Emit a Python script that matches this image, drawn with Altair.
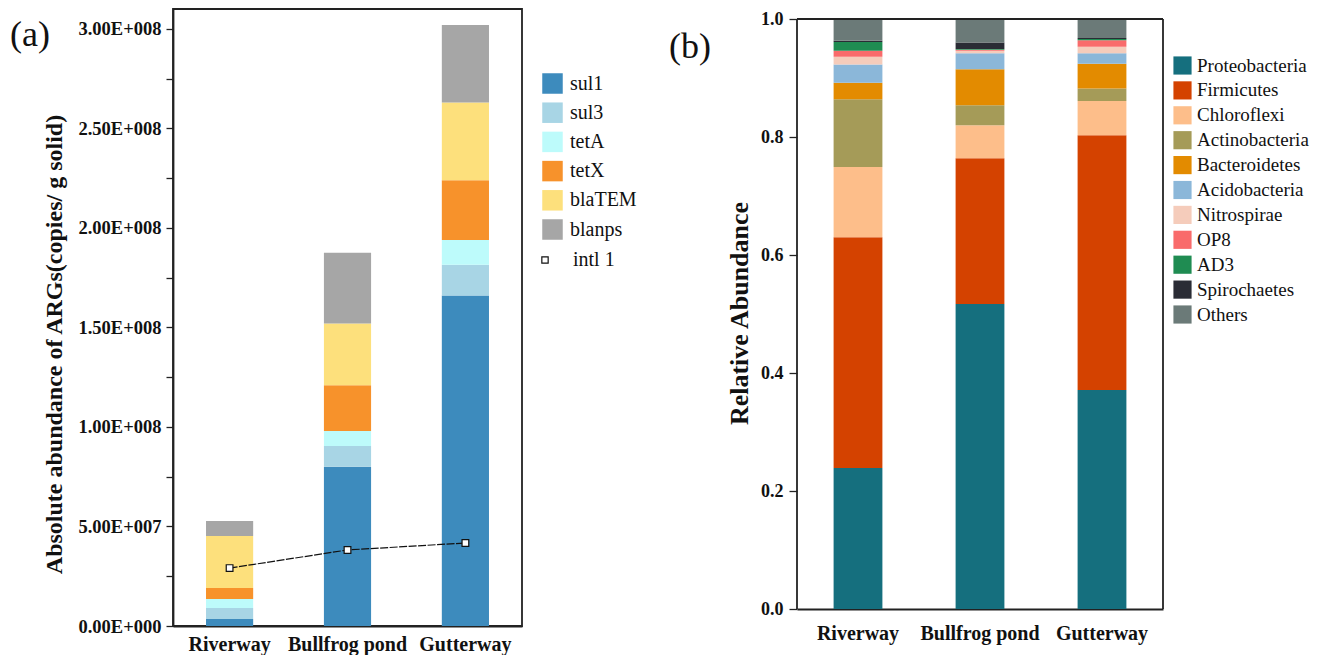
import altair as alt
import pandas as pd

FONT = "Liberation Serif"
INK = "#111111"

sites = ["Riverway", "Bullfrog pond", "Gutterway"]

# ---- panel (a): absolute abundance of ARGs (copies / g solid)
genes = ["sul1", "sul3", "tetA", "tetX", "blaTEM", "blanps"]
gene_colors = ["#3d8bbd", "#a8d5e5", "#bdfbfb", "#f7922b", "#fde07c", "#a6a6a6"]
sul1 = [3.5e6, 80.0e6, 166.0e6]
sul3 = [5.5e6, 10.5e6, 15.5e6]
tetA = [4.6e6, 7.5e6, 12.5e6]
tetX = [5.5e6, 23.0e6, 30.0e6]
blaTEM = [26.1e6, 31.0e6, 39.0e6]
blanps = [7.6e6, 35.5e6, 39.0e6]
intl1 = [29.1e6, 38.2e6, 41.7e6]
a_ticks = [i * 25e6 for i in range(13)]

# ---- panel (b): relative abundance of phyla
phyla = ["Proteobacteria", "Firmicutes", "Chloroflexi", "Actinobacteria",
         "Bacteroidetes", "Acidobacteria", "Nitrospirae", "OP8", "AD3",
         "Spirochaetes", "Others"]
phylum_colors = ["#156f7e", "#d44200", "#fdbe8a", "#a59b58", "#e38b00",
                 "#8bb7d9", "#f5ccbb", "#f96b6b", "#1f8c52", "#2a2c35", "#6b7a78"]
proteobacteria = [0.239, 0.517, 0.371]
firmicutes = [0.391, 0.247, 0.432]
chloroflexi = [0.119, 0.056, 0.058]
actinobacteria = [0.115, 0.034, 0.021]
bacteroidetes = [0.028, 0.061, 0.042]
acidobacteria = [0.031, 0.027, 0.018]
nitrospirae = [0.013, 0.004, 0.011]
op8 = [0.010, 0.002, 0.011]
ad3 = [0.015, 0.001, 0.002]
spirochaetes = [0.002, 0.011, 0.002]
others = [0.037, 0.040, 0.032]
b_ticks = [0.0, 0.2, 0.4, 0.6, 0.8, 1.0]

gene_series = [sul1, sul3, tetA, tetX, blaTEM, blanps]
phylum_series = [proteobacteria, firmicutes, chloroflexi, actinobacteria,
                 bacteroidetes, acidobacteria, nitrospirae, op8, ad3,
                 spirochaetes, others]

df_a = pd.DataFrame([
    {"site": s, "gene": g, "value": vals[i], "idx": k}
    for k, (g, vals) in enumerate(zip(genes, gene_series))
    for i, s in enumerate(sites)
])
df_int = pd.DataFrame({"site": sites, "value": intl1, "lbl": ["intl 1"] * 3})
df_b = pd.DataFrame([
    {"site": s, "phylum": p, "value": vals[i], "idx": k}
    for k, (p, vals) in enumerate(zip(phyla, phylum_series))
    for i, s in enumerate(sites)
])

# ---------------- panel (a)
WA, HA = 349, 617
label_expr_a = ("datum.value == 0 ? '0.00E+000' : (datum.value % 50000000 != 0 ? '' : "
                "(datum.value < 100000000 ? format(datum.value/10000000, '.2f') + 'E+007' : "
                "format(datum.value/100000000, '.2f') + 'E+008'))")

xa = alt.X("site:N", sort=sites,
           scale=alt.Scale(paddingInner=0.6, paddingOuter=0.28),
           axis=alt.Axis(title=None, labelAngle=0, ticks=False, labelFont=FONT,
                         labelFontSize=20, labelFontWeight="bold", labelColor=INK,
                         labelPadding=8, domainColor="#222222", domainWidth=1.8))
ya = alt.Y("value:Q", stack="zero",
           scale=alt.Scale(domain=[0, 310e6], nice=False),
           axis=alt.Axis(values=a_ticks, labelExpr=label_expr_a,
                         title="Absolute abundance of ARGs(copies/ g solid)",
                         titleFont=FONT, titleFontSize=24, titleFontWeight="bold",
                         titleColor=INK, titlePadding=11, titleY=335,
                         labelFont=FONT, labelFontSize=18.5, labelFontWeight="bold",
                         labelColor=INK, tickSize=7, tickColor="#222222", tickWidth=1.3,
                         labelPadding=5, grid=False, domainColor="#222222", domainWidth=1.8))

legend_a = alt.Legend(
    title=None, orient="none", legendX=369, legendY=64,
    symbolType="square", symbolSize=420, symbolStrokeWidth=0,
    labelFont=FONT, labelFontSize=20, labelColor=INK, labelOffset=7, rowPadding=8.2,
)
legend_int = alt.Legend(
    title=None, orient="none", legendX=362, legendY=241,
    symbolType="square", symbolSize=40, symbolFillColor="#ffffff",
    symbolStrokeWidth=1.2, symbolOpacity=1,
    labelFont=FONT, labelFontSize=20, labelColor=INK, labelOffset=18,
)

bars_a = alt.Chart(df_a).mark_bar().encode(
    x=xa, y=ya,
    color=alt.Color("gene:N", scale=alt.Scale(domain=genes, range=gene_colors),
                    legend=legend_a),
    order=alt.Order("idx:Q", sort="ascending"),
)
line_a = alt.Chart(df_int).mark_line(color=INK, strokeWidth=1.2, strokeDash=[8, 1.5]).encode(
    x=alt.X("site:N", sort=sites), y=alt.Y("value:Q"))
pts_a = alt.Chart(df_int).mark_point(shape="square", filled=False, fill="#ffffff",
                                     fillOpacity=1, strokeWidth=1.2, size=45,
                                     opacity=1).encode(
    x=alt.X("site:N", sort=sites), y=alt.Y("value:Q"),
    stroke=alt.Stroke("lbl:N", scale=alt.Scale(domain=["intl 1"], range=[INK]),
                      legend=legend_int))
tag_a = alt.Chart(pd.DataFrame({"t": ["(a)"]})).mark_text(
    font=FONT, fontSize=36, align="center", baseline="middle", color=INK).encode(
    text="t:N", x=alt.value(-143), y=alt.value(26))

panel_a = alt.layer(bars_a, line_a, pts_a, tag_a).properties(
    width=WA, height=HA, view=alt.ViewBackground(stroke="#222222", strokeWidth=1.8))

# ---------------- panel (b)
WB, HB = 366, 600
YTOP = 1.0 + 10.0 / 590.0

xb = alt.X("site:N", sort=sites,
           scale=alt.Scale(paddingInner=0.6, paddingOuter=0.3),
           axis=alt.Axis(title=None, labelAngle=0, ticks=False, labelFont=FONT,
                         labelFontSize=20, labelFontWeight="bold", labelColor=INK,
                         labelPadding=14, domainColor="#222222", domainWidth=1.8))
yb = alt.Y("value:Q", stack="zero",
           scale=alt.Scale(domain=[0, YTOP], nice=False),
           axis=alt.Axis(values=b_ticks, format=".1f", title="Relative Abundance",
                         titleFont=FONT, titleFontSize=26, titleFontWeight="bold",
                         titleColor=INK, titlePadding=8, titleY=304,
                         labelFont=FONT, labelFontSize=18, labelFontWeight="bold",
                         labelColor=INK, tickSize=8, tickColor="#222222", tickWidth=1.3,
                         labelPadding=6, grid=False, domain=False))

legend_b = alt.Legend(
    title=None, orient="none", legendX=376, legendY=47,
    symbolType="square", symbolSize=330, symbolStrokeWidth=0,
    labelFont=FONT, labelFontSize=19, labelColor=INK, labelOffset=5, rowPadding=4.9,
)

bars_b = alt.Chart(df_b).mark_bar().encode(
    x=xb, y=yb,
    color=alt.Color("phylum:N", scale=alt.Scale(domain=phyla, range=phylum_colors),
                    legend=legend_b),
    order=alt.Order("idx:Q", sort="ascending"),
)
frame_df = pd.DataFrame({"lo": [0.0], "hi": [1.0]})
rule_style = dict(color="#222222", strokeWidth=1.8)
left_b = alt.Chart(frame_df).mark_rule(**rule_style).encode(
    x=alt.value(0), y=alt.Y("lo:Q"), y2="hi:Q")
right_b = alt.Chart(frame_df).mark_rule(**rule_style).encode(
    x=alt.value(WB), y=alt.Y("lo:Q"), y2="hi:Q")
top_b = alt.Chart(frame_df).mark_rule(**rule_style).encode(
    y=alt.Y("hi:Q"), x=alt.value(0), x2=alt.value(WB))
tag_b = alt.Chart(pd.DataFrame({"t": ["(b)"]})).mark_text(
    font=FONT, fontSize=36, align="center", baseline="middle", color=INK).encode(
    text="t:N", x=alt.value(-107), y=alt.value(38))

panel_b = alt.layer(bars_b, left_b, right_b, top_b, tag_b).properties(
    width=WB, height=HB, view=alt.ViewBackground(stroke="transparent"))

chart = alt.hconcat(panel_a, panel_b, spacing=30).resolve_scale(
    color="independent", y="independent", x="independent", stroke="independent"
).properties(
    padding={"left": 9, "top": 8, "right": 0, "bottom": 0}
).configure(background="white")

chart.save("out.html", embed_options={"renderer": "svg", "actions": False})
